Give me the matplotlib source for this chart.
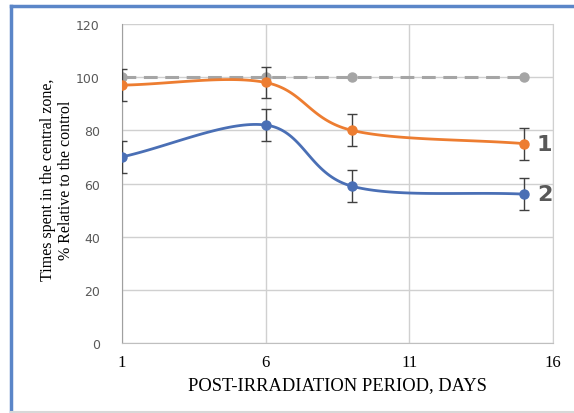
import numpy as np
import matplotlib
matplotlib.use("Agg")
import matplotlib.pyplot as plt
from matplotlib.lines import Line2D

days = [1, 6, 9, 15]
control = [100, 100, 100, 100]
series1 = [97, 98, 80, 75]
series2 = [70, 82, 59, 56]
err1 = [6, 6, 6, 6]
err2 = [6, 6, 6, 6]
series_labels = ["1", "2"]
x_ticks = [1, 6, 11, 16]
y_ticks = [0, 20, 40, 60, 80, 100, 120]

def smooth(xs, ys, n=40):
    xs = np.asarray(xs, float); ys = np.asarray(ys, float)
    px = np.concatenate([[2*xs[0]-xs[1]], xs, [2*xs[-1]-xs[-2]]])
    py = np.concatenate([[2*ys[0]-ys[1]], ys, [2*ys[-1]-ys[-2]]])
    outx, outy = [], []
    for i in range(1, len(px)-2):
        t = np.linspace(0, 1, n)
        p0x, p1x, p2x, p3x = px[i-1:i+3]
        p0y, p1y, p2y, p3y = py[i-1:i+3]
        k = 1/6
        c1x, c1y = p1x + (p2x-p0x)*k, p1y + (p2y-p0y)*k
        c2x, c2y = p2x - (p3x-p1x)*k, p2y - (p3y-p1y)*k
        bx = (1-t)**3*p1x + 3*(1-t)**2*t*c1x + 3*(1-t)*t**2*c2x + t**3*p2x
        by = (1-t)**3*p1y + 3*(1-t)**2*t*c1y + 3*(1-t)*t**2*c2y + t**3*p2y
        outx.extend(bx); outy.extend(by)
    return np.array(outx), np.array(outy)

fig = plt.figure(figsize=(5.74, 4.14), dpi=100)
ax = fig.add_axes([122/574, (414-344)/414, (553-122)/574, (344-25)/414])

grid_c = "#D0D0D0"
ax.set_xlim(1, 16)
ax.set_ylim(0, 120)
ax.set_xticks(x_ticks)
ax.set_yticks(y_ticks)
ax.grid(True, color=grid_c, lw=1)
ax.set_axisbelow(True)
ax.spines["top"].set_visible(False)
ax.spines["right"].set_color(grid_c)
ax.spines["bottom"].set_color("#BFBFBF")
ax.spines["left"].set_color("#A0A0A0")
ax.tick_params(axis="both", length=0)
ax.tick_params(axis="y", pad=16, labelsize=9, labelcolor="#595959")
for lab in ax.get_yticklabels():
    lab.set_family("DejaVu Sans")
ax.tick_params(axis="x", pad=8, labelsize=12, labelcolor="black")
for lab in ax.get_xticklabels():
    lab.set_family("Liberation Serif")

orange = "#ED7D31"
blue = "#4A6FB5"
gray = "#A5A5A5"

ax.plot(days, control, color=gray, lw=2.2, ls=(0, (4.5, 2.5)), marker="o", ms=6.5, zorder=3)

for ys, er, col in [(series1, err1, orange), (series2, err2, blue)]:
    sx, sy = smooth(days, ys)
    ax.plot(sx, sy, color=col, lw=2, zorder=4)
    ax.errorbar(days, ys, yerr=er, fmt="none", ecolor="#404040", elinewidth=1, capsize=3.5, capthick=1, zorder=5)
    ax.plot(days, ys, "o", color=col, ms=6.5, zorder=6)

for ys, lab in [(series1, series_labels[0]), (series2, series_labels[1])]:
    ax.annotate(lab, (days[-1], ys[-1]), xytext=(9, 0), textcoords="offset points",
                ha="left", va="center", fontsize=16, fontweight="bold", color="#595959",
                family="DejaVu Sans", annotation_clip=False)

ax.set_xlabel("POST-IRRADIATION PERIOD, DAYS", family="Liberation Serif", fontsize=13.3, labelpad=4)
fig.text(57/574, 1-180/414, "Times spent in the central zone,\n% Relative to the control", rotation=90,
         ha="center", va="center", family="Liberation Serif", fontsize=11.5, linespacing=1.15)

# frame
fig.add_artist(Line2D([11/574, 11/574], [0, 1-7/414], color="#5B86C8", lw=2.5, transform=fig.transFigure))
fig.add_artist(Line2D([11/574, 1], [1-7/414, 1-7/414], color="#5B86C8", lw=2.5, transform=fig.transFigure))
fig.add_artist(Line2D([11/574, 1], [1.5/414, 1.5/414], color="#D8D8D8", lw=1.5, transform=fig.transFigure))

fig.savefig("out.png", dpi=100)
